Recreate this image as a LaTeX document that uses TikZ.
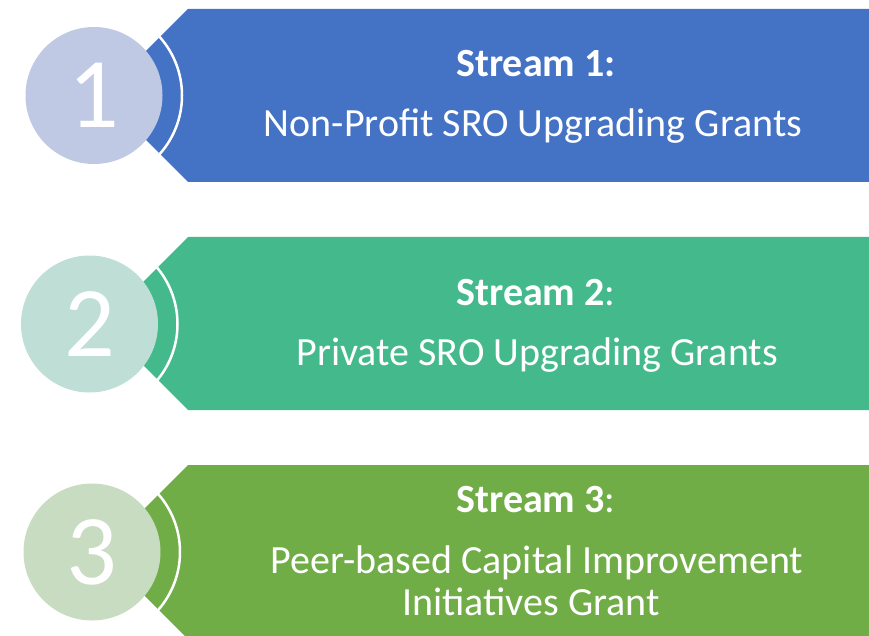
\documentclass[tikz,border=0pt]{standalone}
\usepackage{fontspec}
\setmainfont{Carlito}
\usepackage{xcolor}
\usepackage{tikz}
\usetikzlibrary{positioning,calc}
\definecolor{bandA}{RGB}{68,114,196}
\definecolor{bandB}{RGB}{68,186,140}
\definecolor{bandC}{RGB}{112,173,71}
\definecolor{discA}{RGB}{191,201,228}
\definecolor{discB}{RGB}{191,223,214}
\definecolor{discC}{RGB}{200,220,194}
\tikzstyle{disc}= [circle, inner sep=0pt, minimum size=137pt, text=white, font=\fontsize{100}{100}\selectfont]
\tikzstyle{ring}= [white, line width=2.5pt]
\tikzstyle{title}= [anchor=base, text=white, inner sep=0pt, font=\fontsize{40}{44}\selectfont]
\tikzstyle{body}= [anchor=base, text=white, inner sep=0pt, font=\fontsize{40}{44}\selectfont]

\begin{document}
\begin{tikzpicture}[x=1pt,y=-1pt]
				\useasboundingbox (0,0) rectangle (869,636);
				\clip (0,0) rectangle (869,636);

				% stream 1
				\fill[bandA] (188,9) -- (872,9) -- (872,182) -- (188,182) -- (101.5,95.5) -- cycle;
				\node[disc, fill=discA] (C1) at (94,95.5) {1};
				\draw[ring] ([shift={(-45:88pt)}]C1.center) arc[start angle=-45, end angle=45, radius=88pt];
				\node[title] (T1) at (536,77) {\textbf{Stream 1:}};
				\node[body] (B1) at (533,137) {Non-Profit SRO Upgrading Grants};

				% stream 2
				\fill[bandB] (188,237) -- (872,237) -- (872,410) -- (188,410) -- (101.5,323.5) -- cycle;
				\node[disc, fill=discB] (C2) at (89.5,324) {2};
				\draw[ring] ([shift={(-45:88pt)}]C2.center) arc[start angle=-45, end angle=45, radius=88pt];
				\node[title] (T2) at (536,305) {\textbf{Stream 2}:};
				\node[body] (B2) at (537,365) {Private SRO Upgrading Grants};

				% stream 3
				\fill[bandC] (188,465) -- (872,465) -- (872,639) -- (188,639) -- (101,552) -- cycle;
				\node[disc, fill=discC] (C3) at (92,552) {3};
				\draw[ring] ([shift={(-45:88pt)}]C3.center) arc[start angle=-45, end angle=45, radius=88pt];
				\node[title] (T3) at (536,512) {\textbf{Stream 3}:};
				\node[body] (B3) at (537,573) {Peer-based Capital Improvement};
				\node[body] (B4) at (531,615) {Initiatives Grant};
			\end{tikzpicture}
\end{document}
